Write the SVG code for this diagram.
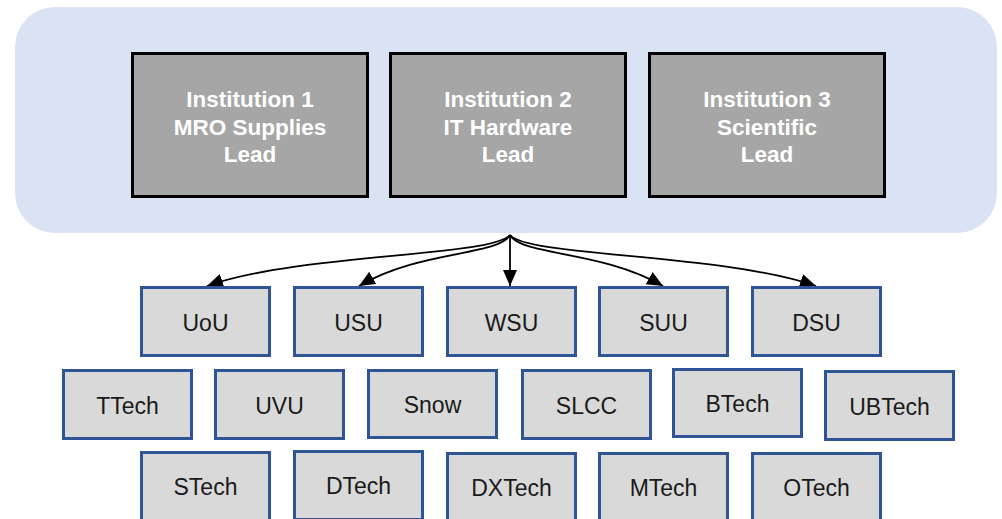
<svg xmlns="http://www.w3.org/2000/svg" width="1002" height="519" viewBox="0 0 1002 519">
<style>
.lead rect{fill:#a6a6a6;stroke:#000;stroke-width:3}
.lead text{fill:#fff;font-family:"Liberation Sans",Arial,sans-serif;font-weight:bold;font-size:22.5px;text-anchor:middle}
.inst rect{fill:#d9d9d9;stroke:#2f5597;stroke-width:3}
.inst text{fill:#1a1a1a;font-family:"Liberation Sans",Arial,sans-serif;font-size:23px;text-anchor:middle}
.conn path{fill:none;stroke:#000;stroke-width:1.8}
</style>
<defs>
<marker id="ah" markerUnits="userSpaceOnUse" markerWidth="18" markerHeight="16" refX="16" refY="7" orient="auto">
<path d="M0,0 L16,7 L0,14 z" fill="#000"/>
</marker>
</defs>
<rect id="panel" x="15" y="7" width="982" height="226" rx="40" ry="40" fill="#dae3f3"/>
<g id="lead1" class="lead"><rect x="132.5" y="53.5" width="235" height="143"/><text x="250" y="107">Institution 1</text><text x="250" y="134.5">MRO Supplies</text><text x="250" y="162">Lead</text></g>
<g id="lead2" class="lead"><rect x="390.5" y="53.5" width="235" height="143"/><text x="508" y="107">Institution 2</text><text x="508" y="134.5">IT Hardware</text><text x="508" y="162">Lead</text></g>
<g id="lead3" class="lead"><rect x="649.5" y="53.5" width="235" height="143"/><text x="767" y="107">Institution 3</text><text x="767" y="134.5">Scientific</text><text x="767" y="162">Lead</text></g>
<g id="connectors" class="conn">
<path d="M510,235 C492,257 300,253 207,286" marker-end="url(#ah)"/>
<path d="M510,235 C498,256 420,250 359,286" marker-end="url(#ah)"/>
<path d="M510,235 L510,286" marker-end="url(#ah)"/>
<path d="M510,235 C522,256 600,250 663,286" marker-end="url(#ah)"/>
<path d="M510,235 C528,257 720,253 816,286" marker-end="url(#ah)"/>
</g>
<g id="UoU" class="inst"><rect x="141.5" y="287.5" width="128" height="68"/><text x="205.5" y="330.5">UoU</text></g>
<g id="USU" class="inst"><rect x="294.5" y="287.5" width="128" height="68"/><text x="358.5" y="330.5">USU</text></g>
<g id="WSU" class="inst"><rect x="447.5" y="287.5" width="128" height="68"/><text x="511.5" y="330.5">WSU</text></g>
<g id="SUU" class="inst"><rect x="599.5" y="287.5" width="128" height="68"/><text x="663.5" y="330.5">SUU</text></g>
<g id="DSU" class="inst"><rect x="752.5" y="287.5" width="128" height="68"/><text x="816.5" y="330.5">DSU</text></g>
<g id="TTech" class="inst"><rect x="63.5" y="370.5" width="128" height="68"/><text x="127.5" y="414">TTech</text></g>
<g id="UVU" class="inst"><rect x="215.5" y="370.5" width="128" height="68"/><text x="279.5" y="414">UVU</text></g>
<g id="Snow" class="inst"><rect x="368.5" y="370.5" width="128" height="67"/><text x="432.5" y="413">Snow</text></g>
<g id="SLCC" class="inst"><rect x="522.5" y="370.5" width="128" height="68"/><text x="586.5" y="414">SLCC</text></g>
<g id="BTech" class="inst"><rect x="673.5" y="369.5" width="128" height="67"/><text x="737.5" y="412">BTech</text></g>
<g id="UBTech" class="inst"><rect x="825.5" y="371.5" width="128" height="68"/><text x="889.5" y="415">UBTech</text></g>
<g id="STech" class="inst"><rect x="141.5" y="452.5" width="128" height="68"/><text x="205.5" y="494.5">STech</text></g>
<g id="DTech" class="inst"><rect x="294.5" y="451.5" width="128" height="68"/><text x="358.5" y="493.5">DTech</text></g>
<g id="DXTech" class="inst"><rect x="447.5" y="453.5" width="128" height="68"/><text x="511.5" y="495.5">DXTech</text></g>
<g id="MTech" class="inst"><rect x="599.5" y="453.5" width="128" height="68"/><text x="663.5" y="495.5">MTech</text></g>
<g id="OTech" class="inst"><rect x="752.5" y="453.5" width="128" height="68"/><text x="816.5" y="495.5">OTech</text></g>
</svg>
